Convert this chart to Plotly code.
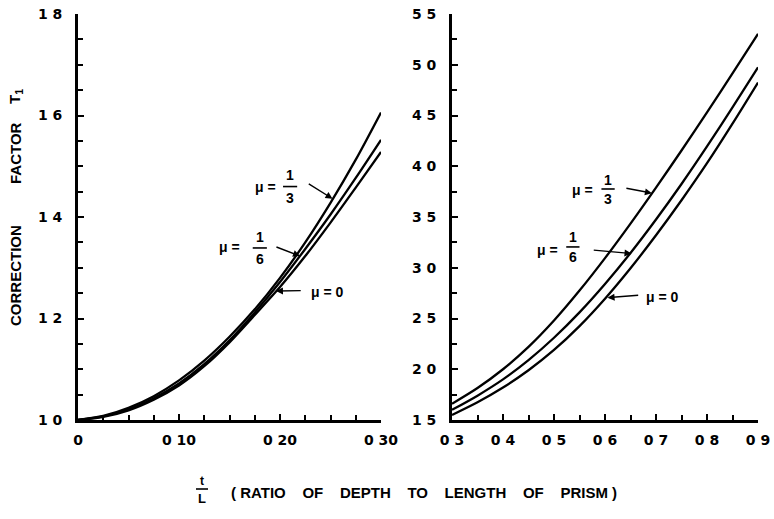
import plotly.graph_objects as go

# ---------------- data ----------------
# Left panel: t/L from 0 to 0.30
x_left = [0.0, 0.025, 0.05, 0.075, 0.10, 0.125, 0.15, 0.175, 0.20, 0.225, 0.25, 0.275, 0.30]
left_mu_third = [1.000, 1.008, 1.024, 1.047, 1.078, 1.117, 1.164, 1.218, 1.280, 1.350, 1.428, 1.513, 1.606]
left_mu_sixth = [1.000, 1.007, 1.021, 1.043, 1.072, 1.110, 1.157, 1.212, 1.272, 1.337, 1.405, 1.477, 1.552]
left_mu_zero = [1.000, 1.006, 1.019, 1.040, 1.068, 1.106, 1.153, 1.207, 1.262, 1.323, 1.389, 1.458, 1.528]

# Right panel: t/L from 0.3 to 0.9
x_right = [0.30, 0.35, 0.40, 0.45, 0.50, 0.55, 0.60, 0.65, 0.70, 0.75, 0.80, 0.85, 0.90]
right_mu_third = [1.66, 1.815, 2.00, 2.22, 2.48, 2.775, 3.095, 3.435, 3.79, 4.155, 4.53, 4.915, 5.305]
right_mu_sixth = [1.60, 1.74, 1.90, 2.09, 2.31, 2.56, 2.84, 3.145, 3.475, 3.825, 4.195, 4.58, 4.975]
right_mu_zero = [1.55, 1.675, 1.82, 1.99, 2.19, 2.425, 2.695, 2.995, 3.32, 3.665, 4.03, 4.42, 4.825]

left_xticks = [0.0, 0.1, 0.2, 0.3]
left_xtext = ["0", "0 10", "0 20", "0 30"]
left_yticks = [1.0, 1.2, 1.4, 1.6, 1.8]
left_ytext = ["1 0", "1 2", "1 4", "1 6", "1 8"]
right_xticks = [0.3, 0.4, 0.5, 0.6, 0.7, 0.8, 0.9]
right_xtext = ["0 3", "0 4", "0 5", "0 6", "0 7", "0 8", "0 9"]
right_yticks = [1.5, 2.0, 2.5, 3.0, 3.5, 4.0, 4.5, 5.0, 5.5]
right_ytext = ["1 5", "2 0", "2 5", "3 0", "3 5", "4 0", "4 5", "5 0", "5 5"]

# ---------------- figure ----------------
FONT = "Liberation Sans"
TICKFONT = "DejaVu Sans"
fig = go.Figure()

line_style = dict(color="black", width=2.3)
for ys in (left_mu_third, left_mu_sixth, left_mu_zero):
    fig.add_trace(go.Scatter(x=x_left, y=ys, mode="lines", line=dict(shape="spline", smoothing=0.8, **line_style),
                             xaxis="x", yaxis="y", showlegend=False, hoverinfo="skip"))
for ys in (right_mu_third, right_mu_sixth, right_mu_zero):
    fig.add_trace(go.Scatter(x=x_right, y=ys, mode="lines", line=dict(shape="spline", smoothing=0.8, **line_style),
                             xaxis="x2", yaxis="y2", showlegend=False, hoverinfo="skip"))

W, H = 774, 519


def px(p):
    return p / W


def py(p):
    return 1 - p / H


ydom = [py(420), py(14)]

common_axis = dict(
    showline=True, linecolor="black", linewidth=2.8, mirror=False, automargin=False,
    showgrid=False, zeroline=False, ticks="inside", ticklen=6, tickwidth=2,
    tickcolor="black", tickmode="array", ticklabeloverflow="allow",
    tickfont=dict(family=TICKFONT, size=14, color="black", weight="bold"),
)

fig.update_layout(
    width=W, height=H,
    margin=dict(l=0, r=0, t=0, b=0),
    paper_bgcolor="white", plot_bgcolor="white",
    xaxis=dict(domain=[px(78), px(381)], range=[0, 0.30], anchor="y",
               tickvals=left_xticks, ticktext=left_xtext, ticklabelstandoff=5,
               minor=dict(tick0=0, dtick=0.025, ticks="inside", ticklen=5, tickwidth=1.6, tickcolor="black"),
               **common_axis),
    yaxis=dict(domain=ydom, range=[1.0, 1.8], anchor="x",
               tickvals=left_yticks, ticktext=left_ytext, ticklabelstandoff=10,
               minor=dict(tick0=1.0, dtick=0.05, ticks="inside", ticklen=5, tickwidth=1.6, tickcolor="black"),
               **common_axis),
    xaxis2=dict(domain=[px(452), px(758)], range=[0.3, 0.9], anchor="y2",
                tickvals=right_xticks, ticktext=right_xtext, ticklabelstandoff=5,
                minor=dict(tick0=0.3, dtick=0.05, ticks="inside", ticklen=5, tickwidth=1.6, tickcolor="black"),
                **common_axis),
    yaxis2=dict(domain=ydom, range=[1.5, 5.5], anchor="x2",
                tickvals=right_yticks, ticktext=right_ytext, ticklabelstandoff=10,
                minor=dict(tick0=1.5, dtick=0.25, ticks="inside", ticklen=5, tickwidth=1.6, tickcolor="black"),
                **common_axis),
)

lab_font = dict(family=FONT, size=14, color="black", weight="bold")
annotations = []
shapes = []


def mu_label(xr, yr, mu_xy, frac=None, tail=None, tip=None, text="\u03bc ="):
    annotations.append(dict(x=mu_xy[0], y=mu_xy[1], xref=xr, yref=yr, text=text,
                            showarrow=False, font=lab_font, xanchor="center", yanchor="middle"))
    if frac is not None:
        fx, ytop, ybar, ybot, num, den, half = frac
        annotations.append(dict(x=fx, y=ytop, xref=xr, yref=yr, text=num, showarrow=False,
                                font=lab_font, xanchor="center", yanchor="middle"))
        annotations.append(dict(x=fx, y=ybot, xref=xr, yref=yr, text=den, showarrow=False,
                                font=lab_font, xanchor="center", yanchor="middle"))
        shapes.append(dict(type="line", xref=xr, yref=yr, x0=fx - half, x1=fx + half, y0=ybar, y1=ybar,
                           line=dict(color="black", width=1.6)))
    annotations.append(dict(x=tip[0], y=tip[1], ax=tail[0], ay=tail[1], xref=xr, yref=yr,
                            axref=xr, ayref=yr, text="", showarrow=True, arrowhead=2,
                            arrowsize=1, arrowwidth=1.4, arrowcolor="black"))


# Left panel labels
mu_label("x", "y", (0.186, 1.459), frac=(0.210, 1.482, 1.460, 1.437, "1", "3", 0.007),
         tail=(0.227, 1.467), tip=(0.252, 1.436))
mu_label("x", "y", (0.150, 1.341), frac=(0.180, 1.360, 1.339, 1.318, "1", "6", 0.007),
         tail=(0.195, 1.342), tip=(0.2198, 1.323))
mu_label("x", "y", (0.2475, 1.252), tail=(0.222, 1.255), tip=(0.196, 1.254), text="\u03bc = 0")

# Right panel labels
mu_label("x2", "y2", (0.555, 3.766), frac=(0.606, 3.865, 3.776, 3.677, "1", "3", 0.013),
         tail=(0.639, 3.786), tip=(0.692, 3.735))
mu_label("x2", "y2", (0.488, 3.175), frac=(0.537, 3.300, 3.205, 3.105, "1", "6", 0.013),
         tail=(0.575, 3.175), tip=(0.652, 3.14))
mu_label("x2", "y2", (0.712, 2.712), tail=(0.668, 2.730), tip=(0.605, 2.705), text="\u03bc = 0")

NB = "\u00a0"
title_font = dict(family=FONT, size=15, color="black", weight="bold")
# y-axis title, three words placed along the left edge
for word, yc in (("CORRECTION", 276), ("FACTOR", 153), ("T<sub>1</sub>", 97)):
    annotations.append(dict(x=px(15), y=py(yc), xref="paper", yref="paper",
                            text=word, textangle=-90, showarrow=False,
                            xanchor="center", yanchor="middle", font=title_font))
# x-axis title
gap = NB * 4
annotations.append(dict(x=px(229), y=py(492), xref="paper", yref="paper",
                        text=f"({NB}RATIO{gap}OF{gap}DEPTH{gap}TO{gap}LENGTH{gap}OF{gap}PRISM{NB})",
                        showarrow=False, xanchor="left", yanchor="middle", font=title_font))
annotations.append(dict(x=px(202), y=py(481), xref="paper", yref="paper", text="t",
                        showarrow=False, xanchor="center", yanchor="middle",
                        font=dict(family=FONT, size=12, color="black", weight="bold")))
annotations.append(dict(x=px(202), y=py(498), xref="paper", yref="paper", text="L",
                        showarrow=False, xanchor="center", yanchor="middle",
                        font=dict(family=FONT, size=13, color="black", weight="bold")))
shapes.append(dict(type="line", xref="paper", yref="paper", x0=px(196), x1=px(208),
                   y0=py(489), y1=py(489), line=dict(color="black", width=1.6)))

fig.update_layout(annotations=annotations, shapes=shapes)
# remove the page's default body margin so the figure fills the window exactly
fig.write_html("out.html", config={"displayModeBar": False},
               post_script="document.body.style.margin='0';")
